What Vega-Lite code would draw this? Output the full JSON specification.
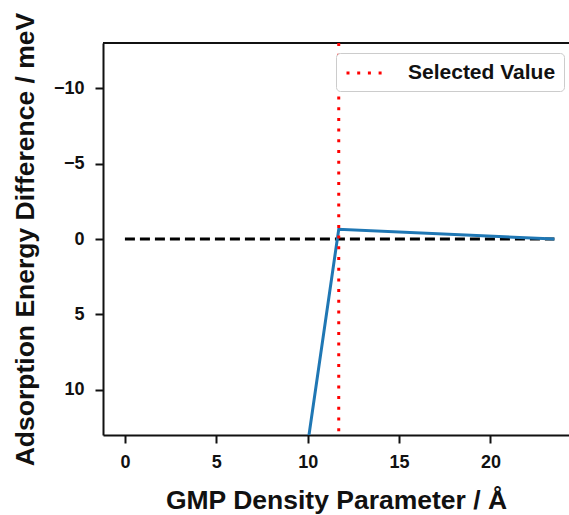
{
  "$schema": "https://vega.github.io/schema/vega-lite/v6.json",
  "width": 466,
  "height": 392,
  "autosize": {"type": "none"},
  "padding": {"left": 103, "top": 43, "right": 0, "bottom": 80},
  "background": "white",
  "config": {
    "view": {"stroke": null},
    "font": "Liberation Sans",
    "axis": {
      "labelFont": "Liberation Sans",
      "labelFontWeight": "bold",
      "labelFontSize": 18,
      "labelColor": "#111",
      "titleFont": "Liberation Sans",
      "titleFontWeight": "bold",
      "titleFontSize": 26.5,
      "titleColor": "#111",
      "domainColor": "#111",
      "domainWidth": 2,
      "tickColor": "#111",
      "tickWidth": 2,
      "tickSize": 8,
      "grid": false
    }
  },
  "layer": [
    {
      "data": {"values": [{"x": -1.2, "y": -13}, {"x": 24.3, "y": -13}]},
      "mark": {"type": "rule", "color": "#111", "strokeWidth": 2},
      "encoding": {
        "x": {"field": "x", "type": "quantitative", "aggregate": "min"},
        "x2": {"field": "x", "aggregate": "max"},
        "y": {"field": "y", "type": "quantitative", "aggregate": "min"}
      }
    },
    {
      "data": {"values": [{"x": 0, "y": 0}, {"x": 23.5, "y": 0}]},
      "mark": {"type": "line", "color": "black", "strokeWidth": 3, "strokeDash": [10, 5], "clip": true},
      "encoding": {
        "x": {"field": "x", "type": "quantitative"},
        "y": {"field": "y", "type": "quantitative"}
      }
    },
    {
      "data": {"values": [{"x": 10, "y": 13.6}, {"x": 11.7, "y": -0.65}, {"x": 23.5, "y": 0}]},
      "mark": {"type": "line", "color": "#1f77b4", "strokeWidth": 3, "clip": true},
      "encoding": {
        "x": {
          "field": "x", "type": "quantitative",
          "scale": {"domain": [-1.2, 24.3], "nice": false, "zero": false},
          "axis": {"values": [0, 5, 10, 15, 20], "title": "GMP Density Parameter / Å", "titlePadding": 16, "labelPadding": 10}
        },
        "y": {
          "field": "y", "type": "quantitative",
          "scale": {"domain": [-13, 13], "reverse": true, "nice": false, "zero": false},
          "axis": {"values": [-10, -5, 0, 5, 10], "title": "Adsorption Energy Difference / meV", "titlePadding": 14, "labelPadding": 11}
        }
      }
    },
    {
      "data": {"values": [{"x": 11.7, "series": "Selected Value"}]},
      "mark": {"type": "rule", "strokeWidth": 3, "strokeDash": [3, 7.7]},
      "encoding": {
        "x": {"field": "x", "type": "quantitative"},
        "color": {
          "field": "series", "type": "nominal",
          "scale": {"range": ["red"]},
          "legend": {
            "title": null,
            "orient": "none",
            "legendX": 233,
            "legendY": 10,
            "symbolType": "M-2,0H2",
            "symbolSize": 441,
            "symbolStrokeWidth": 3,
            "symbolDash": [3, 7.7],
            "symbolOffset": 11.5,
            "labelFont": "Liberation Sans",
            "labelFontWeight": "bold",
            "labelFontSize": 21,
            "labelColor": "#111",
            "strokeColor": "#ccc",
            "fillColor": "white",
            "cornerRadius": 4,
            "padding": 8,
            "labelOffset": 28.5
          }
        }
      }
    }
  ]
}
